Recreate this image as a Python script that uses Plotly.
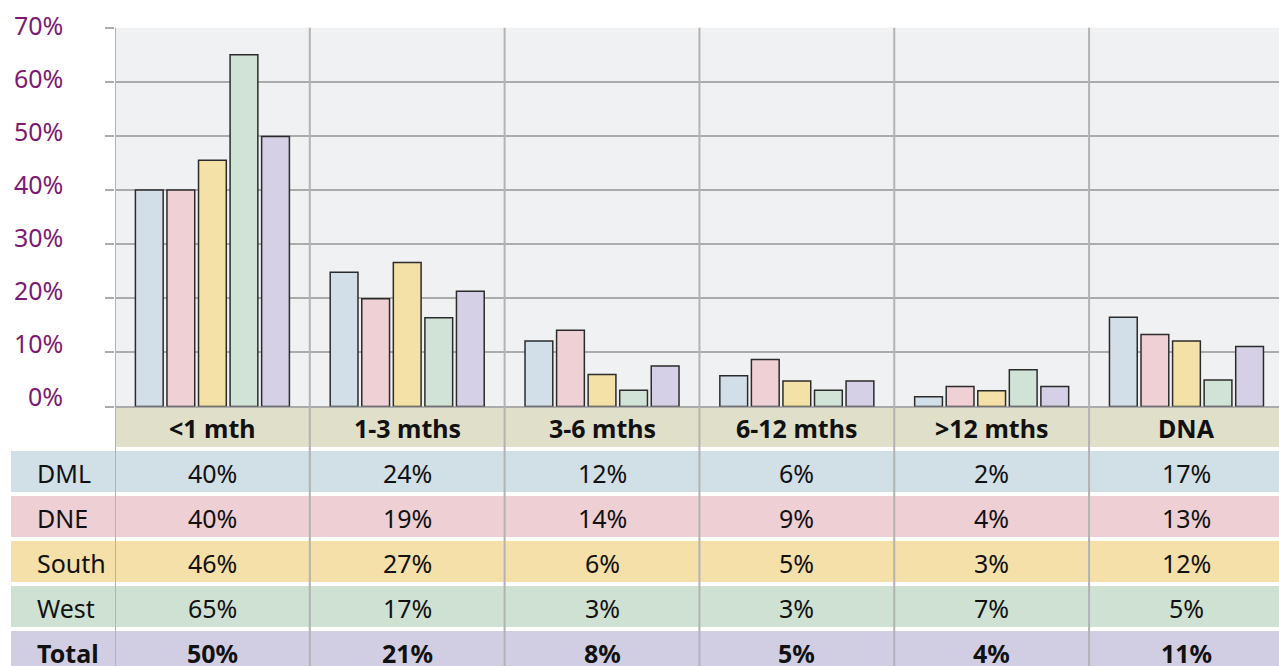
import plotly.graph_objects as go

W, H = 1279, 666

categories = ["<1 mth", "1-3 mths", "3-6 mths", "6-12 mths", ">12 mths", "DNA"]
series_names = ["DML", "DNE", "South", "West", "Total"]

# bar heights (%)
bar_dml = [40.0, 24.8, 12.1, 5.7, 1.8, 16.5]
bar_dne = [40.0, 19.9, 14.1, 8.7, 3.7, 13.3]
bar_south = [45.5, 26.6, 5.9, 4.7, 2.9, 12.1]
bar_west = [65.0, 16.4, 3.0, 3.0, 6.8, 4.9]
bar_total = [49.9, 21.3, 7.5, 4.7, 3.7, 11.1]

# table values as printed
tbl_dml = ["40%", "24%", "12%", "6%", "2%", "17%"]
tbl_dne = ["40%", "19%", "14%", "9%", "4%", "13%"]
tbl_south = ["46%", "27%", "6%", "5%", "3%", "12%"]
tbl_west = ["65%", "17%", "3%", "3%", "7%", "5%"]
tbl_total = ["50%", "21%", "8%", "5%", "4%", "11%"]

y_ticks = [0, 10, 20, 30, 40, 50, 60, 70]

bar_colors = ["#d3dfe8", "#efd0d5", "#f4e1a8", "#d0e3d6", "#d5d0e5"]
row_colors = ["#d1dfe7", "#edcfd4", "#f4e0a8", "#cee1d3", "#d1cee3"]
header_color = "#e0dfca"
grid_color = "#ababab"
sep_color = "#b3b3b3"
purple = "#7b1a72"
FONT = "Noto Sans"
FS = 25


def py(px):
    return 1 - px / H


def pxx(px):
    return px / W


bars = [bar_dml, bar_dne, bar_south, bar_west, bar_total]
tables = [tbl_dml, tbl_dne, tbl_south, tbl_west, tbl_total]

fig = go.Figure()
for name, vals, col in zip(series_names, bars, bar_colors):
    fig.add_trace(go.Bar(
        x=categories, y=vals, name=name,
        marker=dict(color=col, line=dict(color="#2b2b2b", width=1.5)),
        hoverinfo="skip",
    ))

plot_top = 27.8
plot_bottom = 406.5
left = 115
x_max = 5.475

shapes = []
annotations = []

# header row
shapes.append(dict(type="rect", xref="paper", yref="paper",
                   x0=pxx(left), x1=1, y0=py(447), y1=py(plot_bottom),
                   fillcolor=header_color, line=dict(width=0), layer="below"))
for c in categories:
    annotations.append(dict(x=c, xref="x", y=py(428), yref="paper",
                            text="<b>" + c + "</b>", showarrow=False,
                            xanchor="center", yanchor="middle",
                            font=dict(family=FONT, size=FS, color="#111111")))

# data rows
for i, (name, vals, col) in enumerate(zip(series_names, tables, row_colors)):
    top = 451 + 45 * i
    bot = top + 41
    shapes.append(dict(type="rect", xref="paper", yref="paper",
                       x0=pxx(11), x1=1, y0=py(bot), y1=py(top),
                       fillcolor=col, line=dict(width=0), layer="below"))
    bold = name == "Total"
    lab = "<b>" + name + "</b>" if bold else name
    annotations.append(dict(x=pxx(35), xref="paper", y=py((top + bot) / 2 + 1), yref="paper",
                            text=lab, showarrow=False, xanchor="left", yanchor="middle",
                            font=dict(family=FONT, size=FS, color="#111111")))
    for c, v in zip(categories, vals):
        t = "<b>" + v + "</b>" if bold else v
        annotations.append(dict(x=c, xref="x", y=py((top + bot) / 2 + 1), yref="paper",
                                text=t, showarrow=False, xanchor="center", yanchor="middle",
                                font=dict(family=FONT, size=FS, color="#111111")))

# category separators
for k in range(len(categories)):
    shapes.append(dict(type="line", xref="x", yref="paper",
                       x0=k - 0.5, x1=k - 0.5, y0=0, y1=py(plot_top),
                       line=dict(color=sep_color, width=2), layer="above"))

# y tick labels
for v in y_ticks:
    annotations.append(dict(x=pxx(65), xref="paper", y=v, yref="y",
                            text=f"{v}%", showarrow=False, xanchor="right",
                            yanchor="middle", yshift=3 + 8 * (1 - v / 70),
                            font=dict(family=FONT, size=FS, color=purple)))

fig.update_layout(
    width=W, height=H,
    margin=dict(l=0, r=0, t=0, b=0),
    paper_bgcolor="white",
    plot_bgcolor="#f0f1f3",
    barmode="group",
    bargap=0.19,
    bargroupgap=0.12,
    showlegend=False,
    shapes=shapes,
    annotations=annotations,
    xaxis=dict(domain=[pxx(left), 1], type="category", range=[-0.5, x_max],
               showticklabels=False, showgrid=False, zeroline=False, showline=False,
               ticks=""),
    yaxis=dict(domain=[py(plot_bottom), py(plot_top)], range=[0, 70],
               tickvals=y_ticks, showticklabels=False,
               showgrid=True, gridcolor=grid_color, gridwidth=2,
               zeroline=True, zerolinecolor=grid_color, zerolinewidth=2,
               ticks="outside", ticklen=9, tickcolor=grid_color, tickwidth=2,
               showline=False),
)

fig.write_html("out.html", config={"displayModeBar": False},
               post_script="document.body.style.margin='0';document.body.style.overflow='hidden';")
